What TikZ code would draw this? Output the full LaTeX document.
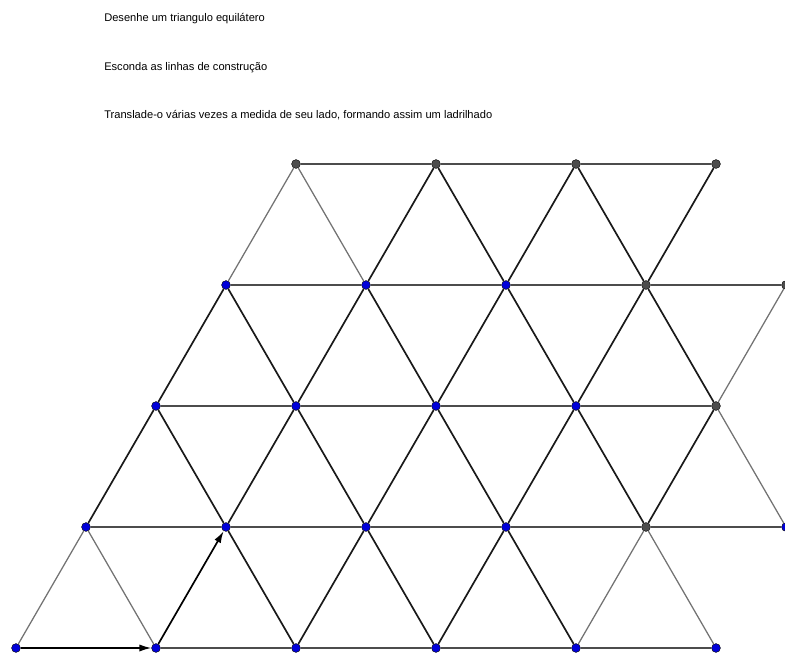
\documentclass[tikz,border=0pt]{standalone}
\usepackage{fontspec}
\setmainfont{Liberation Sans}
\usetikzlibrary{arrows.meta}

\begin{document}
\begin{tikzpicture}[
    x=0.025cm, y=-0.025cm,
    pt/.style={circle, draw=black, line width=0.3pt, inner sep=0pt, minimum size=0.22cm},
    ptblue/.style={pt, fill=blue!85!black},
    ptgray/.style={pt, fill=black!70},
    edge/.style={line width=1.2pt, black!90},
    faint/.style={line width=0.9pt, black!55},
    hline/.style={line width=1pt, black!70},
    vec/.style={line width=1.2pt, -{Latex[length=0.3cm, width=0.18cm]}},
    txt/.style={font=\fontsize{7.9}{9}\selectfont, anchor=base west, inner sep=0pt},
]
\useasboundingbox (0,0) rectangle (785,654);

\node[txt] (t1) at (104,21) {Desenhe um triangulo equilátero};
\node[txt] (t2) at (104,70) {Esconda as linhas de construção};
\node[txt] (t3) at (104,118) {Translade-o várias vezes a medida de seu lado, formando assim um ladrilhado};

% lattice points
\foreach \j/\list in {0/{0,1,2,3,4,5}, 1/{0,1,2,3,5}, 2/{0,1,2,3}, 3/{0,1,2}}
  \foreach \i in \list
    \node[ptblue] (p\j\i) at ({16+70*\j+140*\i}, {648-121*\j}) {};
\foreach \j/\i in {1/4, 2/4, 3/3, 3/4, 4/0, 4/1, 4/2, 4/3}
  \node[ptgray] (p\j\i) at ({16+70*\j+140*\i}, {648-121*\j}) {};

% horizontal sides
\foreach \j/\list in {0/{1,2,3,4}, 1/{0,1,2,3,4}, 2/{0,1,2,3}, 3/{0,1,2,3}, 4/{0,1,2}}
  \foreach \i in \list {
    \pgfmathtruncatemacro\k{\i+1}
    \draw[hline] (p\j\i) -- (p\j\k);
  }

% sides going up to the right
\foreach \j/\u/\list in {0/1/{2,3}, 1/2/{0,1,2,3,4}, 2/3/{0,1,2,3}, 3/4/{1,2,3}}
  \foreach \i in \list
    \draw[edge] (p\j\i) -- (p\u\i);
\foreach \j/\u/\i in {0/1/0, 0/1/4, 2/3/4, 3/4/0}
  \draw[faint] (p\j\i) -- (p\u\i);

% sides going up to the left
\foreach \j/\u/\list in {0/1/{2,3,4}, 1/2/{1,2,3,4}, 2/3/{1,2,3,4}, 3/4/{2,3}}
  \foreach \i in \list {
    \pgfmathtruncatemacro\k{\i-1}
    \draw[edge] (p\j\i) -- (p\u\k);
  }
\foreach \j/\u/\i/\k in {0/1/1/0, 0/1/5/4, 1/2/5/4, 3/4/1/0}
  \draw[faint] (p\j\i) -- (p\u\k);

% translation vectors
\draw[vec] (p00) -- (p01);
\draw[vec] (p01) -- (p11);

\end{tikzpicture}
\end{document}
